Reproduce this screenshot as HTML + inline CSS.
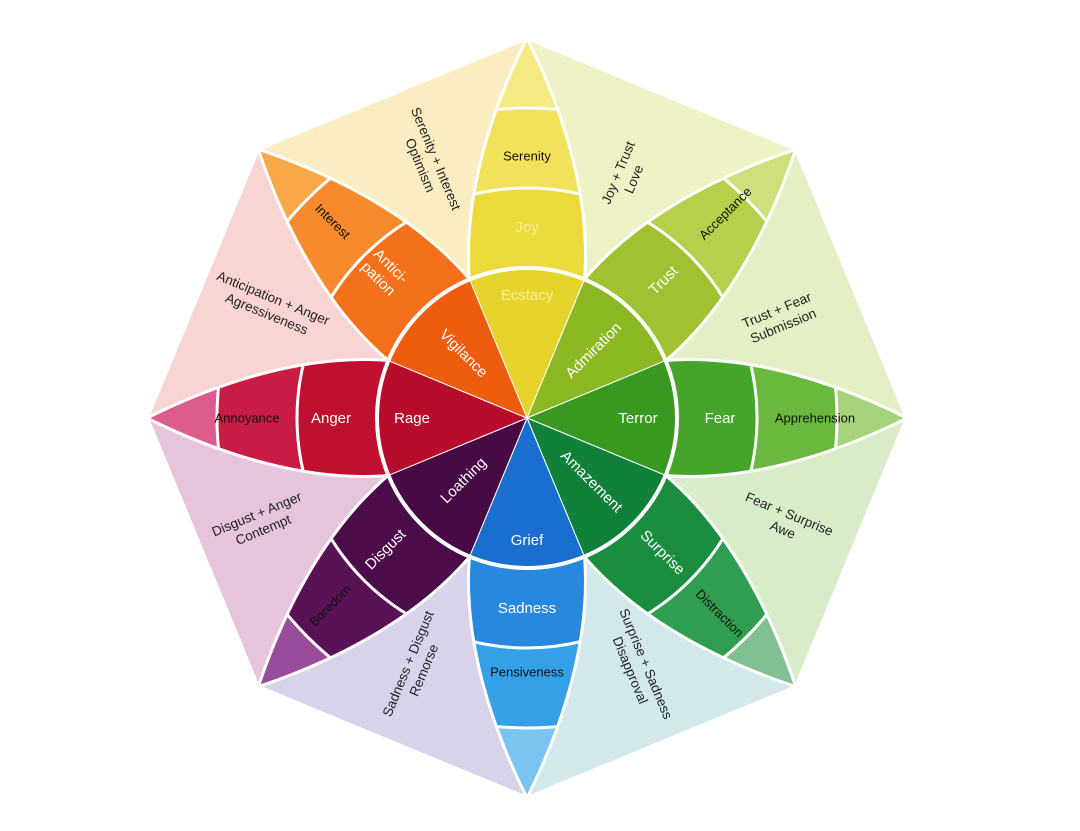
<!DOCTYPE html>
<html><head><meta charset="utf-8"><style>
html,body{margin:0;padding:0;background:#fff;overflow:hidden;width:1080px;height:831px}
svg{display:block}
text{font-family:"Liberation Sans",sans-serif;text-anchor:middle;dominant-baseline:middle}
.w{fill:#fff;font-size:15px}
.b{fill:#111;font-size:13px}
.d{fill:#222;font-size:13.5px}
</style></head><body>
<svg width="1080" height="831" viewBox="0 0 1080 831" xmlns="http://www.w3.org/2000/svg">
<defs>
<clipPath id="lens"><path d="M0,0 C90,-100 65,-250 0,-380 C-65,-250 -90,-100 0,0 Z"/></clipPath>
<path id="lp" d="M0,0 C90,-100 65,-250 0,-380 C-65,-250 -90,-100 0,0 Z"/>
</defs>
<g stroke="#fff" stroke-width="4" stroke-linejoin="round">
<polygon points="527,418 527,38 796,149" fill="#eef2c4"/>
<polygon points="527,418 796,149 907,418" fill="#e4efc6"/>
<polygon points="527,418 907,418 796,687" fill="#d9ecc9"/>
<polygon points="527,418 796,687 527,798" fill="#d2e8ea"/>
<polygon points="527,418 527,798 258,687" fill="#d8d2ea"/>
<polygon points="527,418 258,687 147,418" fill="#e6c4dc"/>
<polygon points="527,418 147,418 258,149" fill="#f8d4d2"/>
<polygon points="527,418 258,149 527,38" fill="#fbedc2"/>
</g>

<g transform="translate(527,418)">
<g transform="rotate(0)"><g clip-path="url(#lens)"><rect x="-200" y="-400" width="400" height="400" fill="#f5ea82"/><circle r="310" fill="#f1e25a"/><circle r="230" fill="#ecda3c"/></g><use href="#lp" fill="none" stroke="#fff" stroke-width="3"/><g fill="none" stroke="#fff" stroke-width="3" clip-path="url(#lens)"><circle r="310"/><circle r="230"/></g></g>
<g transform="rotate(45)"><g clip-path="url(#lens)"><rect x="-200" y="-400" width="400" height="400" fill="#cde07c"/><circle r="310" fill="#b5d04c"/><circle r="230" fill="#a0c232"/></g><use href="#lp" fill="none" stroke="#fff" stroke-width="3"/><g fill="none" stroke="#fff" stroke-width="3" clip-path="url(#lens)"><circle r="310"/><circle r="230"/></g></g>
<g transform="rotate(90)"><g clip-path="url(#lens)"><rect x="-200" y="-400" width="400" height="400" fill="#a6d27a"/><circle r="310" fill="#6ab83e"/><circle r="230" fill="#45a42a"/></g><use href="#lp" fill="none" stroke="#fff" stroke-width="3"/><g fill="none" stroke="#fff" stroke-width="3" clip-path="url(#lens)"><circle r="310"/><circle r="230"/></g></g>
<g transform="rotate(135)"><g clip-path="url(#lens)"><rect x="-200" y="-400" width="400" height="400" fill="#80c092"/><circle r="310" fill="#2f9e50"/><circle r="230" fill="#1a8e3e"/></g><use href="#lp" fill="none" stroke="#fff" stroke-width="3"/><g fill="none" stroke="#fff" stroke-width="3" clip-path="url(#lens)"><circle r="310"/><circle r="230"/></g></g>
<g transform="rotate(180)"><g clip-path="url(#lens)"><rect x="-200" y="-400" width="400" height="400" fill="#7cc4f0"/><circle r="310" fill="#33a0e8"/><circle r="230" fill="#2888de"/></g><use href="#lp" fill="none" stroke="#fff" stroke-width="3"/><g fill="none" stroke="#fff" stroke-width="3" clip-path="url(#lens)"><circle r="310"/><circle r="230"/></g></g>
<g transform="rotate(225)"><g clip-path="url(#lens)"><rect x="-200" y="-400" width="400" height="400" fill="#9a4c9c"/><circle r="310" fill="#5a1256"/><circle r="230" fill="#4c0c4a"/></g><use href="#lp" fill="none" stroke="#fff" stroke-width="3"/><g fill="none" stroke="#fff" stroke-width="3" clip-path="url(#lens)"><circle r="310"/><circle r="230"/></g></g>
<g transform="rotate(270)"><g clip-path="url(#lens)"><rect x="-200" y="-400" width="400" height="400" fill="#dc5c8c"/><circle r="310" fill="#c81c44"/><circle r="230" fill="#c01030"/></g><use href="#lp" fill="none" stroke="#fff" stroke-width="3"/><g fill="none" stroke="#fff" stroke-width="3" clip-path="url(#lens)"><circle r="310"/><circle r="230"/></g></g>
<g transform="rotate(315)"><g clip-path="url(#lens)"><rect x="-200" y="-400" width="400" height="400" fill="#f8a848"/><circle r="310" fill="#f68a2c"/><circle r="230" fill="#f4701a"/></g><use href="#lp" fill="none" stroke="#fff" stroke-width="3"/><g fill="none" stroke="#fff" stroke-width="3" clip-path="url(#lens)"><circle r="310"/><circle r="230"/></g></g>

<g stroke="#fff" stroke-width="1">
<path d="M0,0 L-57.4,-138.6 A150 150 0 0 1 57.4,-138.6 Z" fill="#e6d42c" transform="rotate(0)"/>
<path d="M0,0 L-57.4,-138.6 A150 150 0 0 1 57.4,-138.6 Z" fill="#8cb824" transform="rotate(45)"/>
<path d="M0,0 L-57.4,-138.6 A150 150 0 0 1 57.4,-138.6 Z" fill="#389820" transform="rotate(90)"/>
<path d="M0,0 L-57.4,-138.6 A150 150 0 0 1 57.4,-138.6 Z" fill="#10803a" transform="rotate(135)"/>
<path d="M0,0 L-57.4,-138.6 A150 150 0 0 1 57.4,-138.6 Z" fill="#1a6ed0" transform="rotate(180)"/>
<path d="M0,0 L-57.4,-138.6 A150 150 0 0 1 57.4,-138.6 Z" fill="#480a44" transform="rotate(225)"/>
<path d="M0,0 L-57.4,-138.6 A150 150 0 0 1 57.4,-138.6 Z" fill="#b80c2c" transform="rotate(270)"/>
<path d="M0,0 L-57.4,-138.6 A150 150 0 0 1 57.4,-138.6 Z" fill="#ee5c0e" transform="rotate(315)"/>
</g>
<circle r="150" fill="none" stroke="#fff" stroke-width="4"/>
</g>

<text x="527" y="296" class="w" style="fill:#f7ef9c">Ecstacy</text>
<text x="527" y="228" class="w" style="fill:#f7ef9c">Joy</text>
<text x="527" y="157" class="b">Serenity</text>

<text class="w" transform="translate(594,351) rotate(-45)">Admiration</text>
<text class="w" transform="translate(664,281) rotate(-45)">Trust</text>
<text class="b" transform="translate(726,214) rotate(-45)">Acceptance</text>

<text x="638" y="419" class="w">Terror</text>
<text x="720" y="419" class="w">Fear</text>
<text x="815" y="419" class="b">Apprehension</text>

<text class="w" transform="translate(591,482) rotate(45)">Amazement</text>
<text class="w" transform="translate(662,553) rotate(45)">Surprise</text>
<text class="b" transform="translate(719,614) rotate(45)">Distraction</text>

<text x="527" y="541" class="w">Grief</text>
<text x="527" y="609" class="w">Sadness</text>
<text x="527" y="673" class="b">Pensiveness</text>

<text class="w" transform="translate(464,481) rotate(-45)">Loathing</text>
<text class="w" transform="translate(386,550) rotate(-45)">Disgust</text>
<text class="b" transform="translate(331,606) rotate(-45)">Boredom</text>

<text x="412" y="419" class="w">Rage</text>
<text x="331" y="419" class="w">Anger</text>
<text x="247" y="419" class="b">Annoyance</text>

<text class="w" transform="translate(463,354) rotate(45)">Vigilance</text>
<text class="w" transform="translate(384,273) rotate(45)"><tspan x="0" dy="-9">Antici-</tspan><tspan x="0" dy="18">pation</tspan></text>
<text class="b" transform="translate(332,222) rotate(45)">Interest</text>

<text class="d" transform="translate(428,162) rotate(67.5)"><tspan x="0" dy="-8">Serenity + Interest</tspan><tspan x="0" dy="17">Optimism</tspan></text>
<text class="d" transform="translate(626,176) rotate(-67.5)"><tspan x="0" dy="-8">Joy + Trust</tspan><tspan x="0" dy="17">Love</tspan></text>
<text class="d" transform="translate(780,318) rotate(-22.5)"><tspan x="0" dy="-8">Trust + Fear</tspan><tspan x="0" dy="17">Submission</tspan></text>
<text class="d" transform="translate(270,306) rotate(22.5)"><tspan x="0" dy="-8">Anticipation + Anger</tspan><tspan x="0" dy="17">Agressiveness</tspan></text>
<text class="d" transform="translate(260,522) rotate(-22.5)"><tspan x="0" dy="-8">Disgust + Anger</tspan><tspan x="0" dy="17">Contempt</tspan></text>
<text class="d" transform="translate(786,522) rotate(22.5)"><tspan x="0" dy="-8">Fear + Surprise</tspan><tspan x="0" dy="17">Awe</tspan></text>
<text class="d" transform="translate(416,667) rotate(-67.5)"><tspan x="0" dy="-8">Sadness + Disgust</tspan><tspan x="0" dy="17">Remorse</tspan></text>
<text class="d" transform="translate(638,667) rotate(67.5)"><tspan x="0" dy="-8">Surprise + Sadness</tspan><tspan x="0" dy="17">Disapproval</tspan></text>
</svg>
</body></html>
